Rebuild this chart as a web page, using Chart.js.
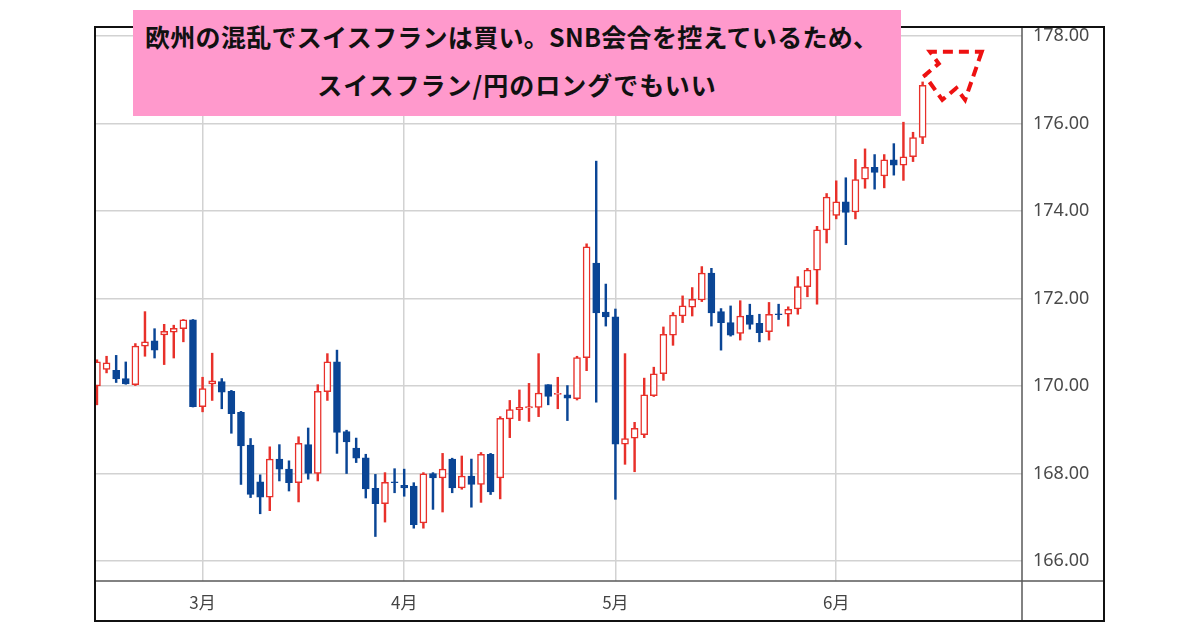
<!DOCTYPE html>
<html lang="ja">
<head>
<meta charset="utf-8">
<script src="https://cdn.jsdelivr.net/npm/chart.js@4/dist/chart.umd.min.js"></script>
<style>
  html, body { margin: 0; padding: 0; background: #fff; }
  #wrap { position: relative; width: 1200px; height: 630px; }
  #myChart { position: absolute; left: 0; top: 0; }
  #caption {
    position: absolute; left: 133px; top: 10px; width: 768px; height: 106px;
    background: #ff99cc; color: #111;
    font-family: "Noto Sans CJK JP", "Noto Sans", sans-serif; font-weight: bold; font-size: 25px;
  }
  #caption .l1 { position: absolute; left: 12px; top: 10px; line-height: 32px; white-space: nowrap; letter-spacing: 0.3px; }
  #caption .l2 { position: absolute; left: 0; right: 0; top: 58px; line-height: 32px; text-align: center; letter-spacing: 1px; white-space: nowrap; }
</style>
</head>
<body>
<div id="wrap">
  <canvas id="myChart" width="1200" height="630"></canvas>
  <div id="caption">
    <div class="l1">欧州の混乱でスイスフランは買い。SNB会合を控えているため、</div>
    <div class="l2">スイスフラン/円のロングでもいい</div>
  </div>
</div>
<script>
// スイスフラン/円 日足 (2024/2/15 - 6/14)
const dates = [
  '2024-02-15','2024-02-16','2024-02-19','2024-02-20','2024-02-21','2024-02-22','2024-02-23','2024-02-26','2024-02-27','2024-02-28','2024-02-29',
  '2024-03-01','2024-03-04','2024-03-05','2024-03-06','2024-03-07','2024-03-08','2024-03-11','2024-03-12','2024-03-13','2024-03-14','2024-03-15',
  '2024-03-18','2024-03-19','2024-03-20','2024-03-21','2024-03-22','2024-03-25','2024-03-26','2024-03-27','2024-03-28','2024-03-29',
  '2024-04-01','2024-04-02','2024-04-03','2024-04-04','2024-04-05','2024-04-08','2024-04-09','2024-04-10','2024-04-11','2024-04-12',
  '2024-04-15','2024-04-16','2024-04-17','2024-04-18','2024-04-19','2024-04-22','2024-04-23','2024-04-24','2024-04-25','2024-04-26',
  '2024-04-29','2024-04-30',
  '2024-05-01','2024-05-02','2024-05-03','2024-05-06','2024-05-07','2024-05-08','2024-05-09','2024-05-10','2024-05-13','2024-05-14',
  '2024-05-15','2024-05-16','2024-05-17','2024-05-20','2024-05-21','2024-05-22','2024-05-23','2024-05-24','2024-05-27','2024-05-28',
  '2024-05-29','2024-05-30','2024-05-31',
  '2024-06-03','2024-06-04','2024-06-05','2024-06-06','2024-06-07','2024-06-10','2024-06-11','2024-06-12','2024-06-13','2024-06-14'
];
const opens = [
  170.00,170.38,170.36,170.17,170.03,170.91,171.03,171.17,171.23,171.31,171.51,
  169.53,170.05,170.10,169.88,169.40,168.65,167.81,167.46,168.33,168.10,167.79,
  168.66,168.00,169.87,170.55,168.96,168.58,168.36,167.66,167.31,167.81,
  167.73,167.71,166.87,168.00,167.90,168.33,167.67,167.94,167.75,168.44,
  167.90,169.25,169.46,169.50,169.51,170.03,169.81,169.80,169.71,170.65,
  172.81,171.69,
  171.58,168.67,168.81,168.89,169.78,170.28,171.16,171.60,171.80,171.97,
  172.58,171.70,171.45,171.20,171.62,171.43,171.24,171.65,171.64,171.76,
  172.27,172.65,173.57,
  173.90,174.21,173.98,174.73,175.00,174.80,175.17,175.05,175.24,175.68
];
const highs = [
  170.60,170.68,170.70,170.55,170.97,171.70,171.31,171.41,171.39,171.52,171.52,
  170.20,170.75,170.17,169.90,169.42,168.80,167.97,168.61,168.66,168.29,168.84,
  169.04,170.03,170.74,170.82,168.99,168.81,168.44,167.98,168.02,168.11,
  168.10,167.79,168.02,168.02,168.46,168.35,168.40,168.33,168.48,168.46,
  169.30,169.67,169.91,170.06,170.74,170.03,170.20,170.01,170.68,173.25,
  175.14,172.33,
  171.76,170.74,169.17,170.18,170.43,171.35,171.68,172.06,172.25,172.73,
  172.69,171.77,171.83,171.95,171.87,171.64,171.91,171.87,171.81,172.50,
  172.69,173.65,174.40,
  174.69,174.76,175.18,175.42,175.29,175.29,175.54,176.03,175.80,176.95
];
const lows = [
  169.57,170.30,170.08,170.04,170.01,170.68,170.64,170.49,170.64,171.01,169.52,
  169.41,169.67,169.48,168.92,167.75,167.45,167.08,167.15,167.83,167.60,167.35,
  167.87,167.83,169.67,168.46,168.00,168.25,167.44,166.56,166.89,167.56,
  167.48,166.75,166.75,167.18,167.12,167.56,167.64,167.23,167.34,167.52,
  167.42,168.82,169.21,169.19,169.30,169.57,169.48,169.21,169.68,170.35,
  169.63,171.37,
  167.41,168.21,168.04,168.82,169.76,170.13,170.93,171.45,171.60,171.93,
  171.37,170.82,171.14,171.05,171.30,171.01,171.05,171.52,171.37,171.64,
  172.04,171.87,173.27,
  173.82,173.23,173.82,174.52,174.50,174.53,174.82,174.70,175.13,175.54
];
const closes = [
  170.55,170.53,170.16,170.05,170.91,171.01,170.82,171.25,171.32,171.51,169.53,
  169.94,170.12,169.86,169.37,168.63,167.52,167.46,168.33,168.10,167.79,168.69,
  168.00,169.88,170.55,168.94,168.72,168.35,167.65,167.31,167.80,167.79,
  167.67,166.83,167.99,167.90,168.10,167.67,167.94,167.75,168.44,167.58,
  169.26,169.46,169.51,169.53,169.84,169.76,169.83,169.72,170.65,173.18,
  171.67,171.58,
  168.67,168.80,169.03,169.80,170.28,171.18,171.62,171.83,171.98,172.58,
  171.67,171.45,171.16,171.60,171.41,171.22,171.64,171.63,171.75,172.27,
  172.65,173.57,174.32,
  174.21,173.97,174.72,175.00,174.88,175.17,175.05,175.24,175.68,176.87
];
const yTicks = [166, 168, 170, 172, 174, 176, 178];

const UP = '#e8302a';
const DOWN = '#0a4595';

// 月初のインデックスと「n月」ラベル
const monthIdx = [];
const monthLabel = {};
dates.forEach((d, i) => {
  if (i > 0 && d.slice(5, 7) !== dates[i - 1].slice(5, 7)) {
    monthIdx.push(i);
    monthLabel[i] = parseInt(d.slice(5, 7)) + '月';
  }
});

const isUp = opens.map((o, i) => closes[i] >= o);
const bodies = dates.map((d, i) => ({ x: i, y: [opens[i], closes[i]] }));
const wicks = dates.map((d, i) => ({ x: i, y: [lows[i], highs[i]] }));

// 赤い点線の矢印 (データ座標: [日数インデックス, 価格])
const arrowPts = [
  [92.16, 177.64], [90.42, 176.54], [89.51, 176.81], [88.05, 176.54],
  [86.22, 177.10], [87.68, 177.37], [86.77, 177.64]
];

const framePlugin = {
  id: 'frame',
  afterDraw(chart) {
    const ctx = chart.ctx;
    const a = chart.chartArea;
    const x = chart.scales.x, y = chart.scales.y;
    const left = a.left - 1, right = a.right + y.width, top = a.top, bottom = a.bottom + x.height;
    ctx.save();
    // 矢印
    ctx.strokeStyle = '#ee1111';
    ctx.lineWidth = 4;
    ctx.setLineDash([10, 6]);
    ctx.beginPath();
    arrowPts.forEach((p, i) => {
      const px = x.getPixelForValue(p[0]), py = y.getPixelForValue(p[1]);
      if (i === 0) ctx.moveTo(px, py); else ctx.lineTo(px, py);
    });
    ctx.closePath();
    ctx.stroke();
    ctx.setLineDash([]);
    // 枠線
    ctx.strokeStyle = '#5a5a5a';
    ctx.lineWidth = 1.5;
    ctx.beginPath();
    ctx.moveTo(left, a.bottom); ctx.lineTo(right, a.bottom);
    ctx.moveTo(a.right, top); ctx.lineTo(a.right, bottom);
    ctx.stroke();
    ctx.strokeStyle = '#111';
    ctx.lineWidth = 2;
    ctx.strokeRect(left, top, right - left, bottom - top);
    ctx.restore();
  }
};

const ctx = document.getElementById('myChart').getContext('2d');
const myChart = new Chart(ctx, {
  type: 'bar',
  data: {
    datasets: [
      {
        label: '実体',
        data: bodies,
        grouped: false,
        barThickness: 7,
        backgroundColor: isUp.map(u => u ? '#ffffff' : DOWN),
        borderColor: isUp.map(u => u ? UP : DOWN),
        borderWidth: 1.5,
        borderSkipped: false
      },
      {
        label: 'ヒゲ',
        data: wicks,
        grouped: false,
        barThickness: 1.8,
        backgroundColor: isUp.map(u => u ? UP : DOWN),
        borderWidth: 0
      }
    ]
  },
  options: {
    responsive: false,
    animation: false,
    devicePixelRatio: 1,
    layout: { padding: { left: 96, top: 27, right: 96, bottom: 9 } },
    plugins: {
      legend: { display: false },
      tooltip: { enabled: false }
    },
    scales: {
      x: {
        type: 'linear',
        min: -0.1,
        max: 96.35,
        offset: false,
        afterBuildTicks: (scale) => { scale.ticks = monthIdx.map(v => ({ value: v })); },
        afterFit: (scale) => { scale.height = 40; },
        grid: { color: '#d2d2d2', lineWidth: 1.5, drawTicks: false, offset: false },
        border: { display: false },
        ticks: {
          padding: 11,
          maxRotation: 0,
          autoSkip: false,
          color: '#444',
          font: { family: '"Noto Sans CJK JP", "Noto Sans", sans-serif', size: 17 },
          callback: (v) => monthLabel[v] || ''
        }
      },
      y: {
        position: 'right',
        min: 165.543,
        max: 178.206,
        afterBuildTicks: (scale) => { scale.ticks = yTicks.map(v => ({ value: v })); },
        afterFit: (scale) => { scale.width = 82; },
        grid: { color: '#d2d2d2', lineWidth: 1.5, drawTicks: false },
        border: { display: false },
        ticks: {
          padding: 11,
          color: '#4a4a4a',
          font: { family: '"Noto Sans", sans-serif', size: 18 },
          callback: (v) => Number(v).toFixed(2)
        }
      }
    }
  },
  plugins: [framePlugin]
});
</script>
</body>
</html>
